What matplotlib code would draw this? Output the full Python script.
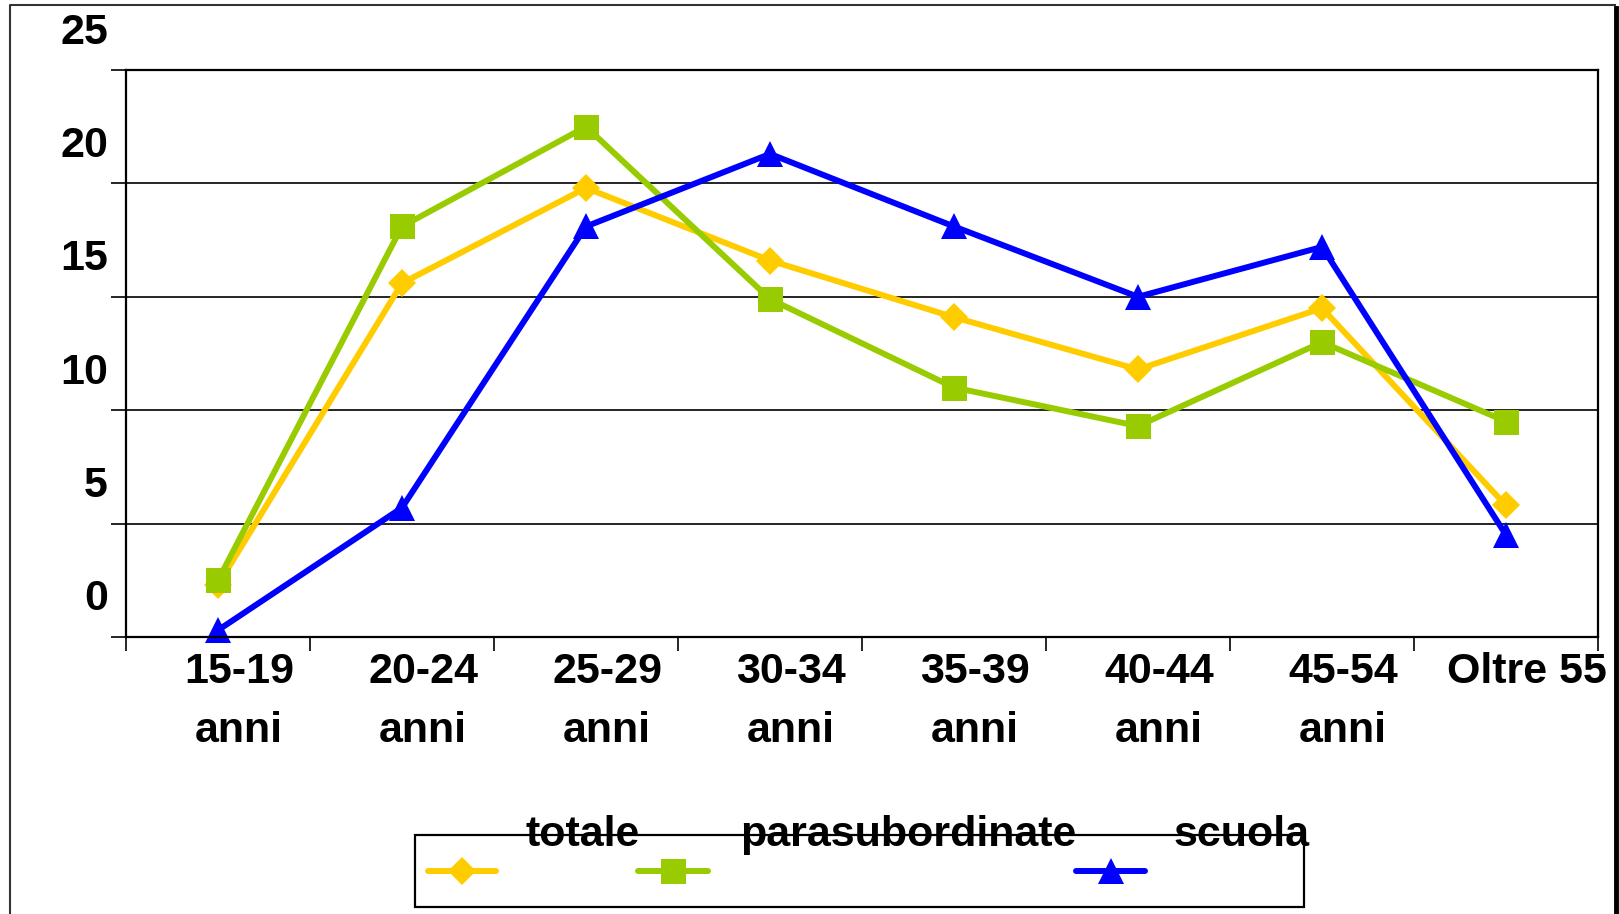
import matplotlib.pyplot as plt
from matplotlib.lines import Line2D
from matplotlib.patches import Rectangle
from matplotlib.transforms import ScaledTranslation

plt.rcParams['font.family'] = ['Liberation Sans', 'DejaVu Sans']
plt.rcParams['font.weight'] = 'bold'

# classi di eta'
categorie = ['15-19\nanni', '20-24\nanni', '25-29\nanni', '30-34\nanni',
             '35-39\nanni', '40-44\nanni', '45-54\nanni', 'Oltre 55']

# valori delle serie
totale = [2.3, 15.6, 19.8, 16.6, 14.1, 11.8, 14.5, 5.8]
parasubordinate = [2.5, 18.1, 22.5, 14.9, 11.0, 9.3, 13.0, 9.5]
scuola = [0.3, 5.7, 18.1, 21.3, 18.1, 15.0, 17.2, 4.5]

y_ticks = [0, 5, 10, 15, 20, 25]

nomi = ['totale', 'parasubordinate', 'scuola']
colori = ['#FFCC00', '#99CC00', '#0000FF']
marcatori = ['D', 's', '^']
dim_marc = [14.5, 18, 19]
FS = 31

W, H = 1619, 914
fig = plt.figure(figsize=(W / 100, H / 100), dpi=100)
ax = fig.add_axes([126 / W, 1 - 637 / H, (1598 - 126) / W, (637 - 70) / H])

x = list(range(len(categorie)))
for serie, col, m, ms in zip([totale, parasubordinate, scuola], colori, marcatori, dim_marc):
    ax.plot(x, serie, color=col, lw=4.3, marker=m, markersize=ms,
            markeredgewidth=0, clip_on=False)

ax.set_xlim(-0.5, len(categorie) - 0.5)
ax.set_ylim(0, 25)

# assi
for s in ax.spines.values():
    s.set_color('black')
    s.set_linewidth(1.6)

ax.set_yticks(y_ticks)
ax.set_yticklabels([str(v) for v in y_ticks])
ax.tick_params(axis='y', direction='out', length=11, width=1.2, pad=2, labelsize=FS)
ax.grid(axis='y', color='black', lw=1.2)
ax.set_axisbelow(True)

# etichette y spostate verso l'alto
off_y = ScaledTranslation(0, 0.42, fig.dpi_scale_trans)
for lab in ax.get_yticklabels():
    lab.set_transform(lab.get_transform() + off_y)

ax.set_xticks([i - 0.5 for i in range(len(categorie) + 1)])
ax.set_xticklabels([])
ax.set_xticks(x, minor=True)
ax.set_xticklabels(categorie, minor=True, fontsize=FS, linespacing=1.6)
ax.tick_params(axis='x', which='major', direction='out', length=10, width=1.2)
ax.tick_params(axis='x', which='minor', length=0, pad=11)
off_x = ScaledTranslation(0.21, 0, fig.dpi_scale_trans)
for lab in ax.get_xticklabels(minor=True):
    lab.set_transform(lab.get_transform() + off_x)

# cornice esterna
def px(xp, yp):
    return xp / W, 1 - yp / H

fig.add_artist(Line2D(*zip(px(10, 914), px(10, 5), px(1615, 5)), color='#333333', lw=1.5))
fig.add_artist(Line2D(*zip(px(1616, 8), px(1616, 914)), color='black', lw=3.5))

# legenda
x0, y0 = px(415, 907)
x1, y1 = px(1304, 835)
fig.add_artist(Rectangle((x0, y0), x1 - x0, y1 - y0, transform=fig.transFigure,
                         fill=False, edgecolor='black', lw=1.6))
seg = [(428, 496), (638, 708), (1076, 1145)]
testo_x = [583, 908, 1242]
for nome, col, m, ms, (a, b), tx in zip(nomi, colori, marcatori, dim_marc, seg, testo_x):
    xa, ya = px(a, 871)
    xb, _ = px(b, 871)
    fig.add_artist(Line2D([xa, xb], [ya, ya], color=col, lw=4.3, solid_capstyle='round'))
    fig.add_artist(Line2D([(xa + xb) / 2], [ya], color=col, marker=m, markersize=ms,
                          markeredgewidth=0, linestyle='none'))
    tx_f, ty_f = px(tx, 835)
    fig.text(tx_f, ty_f, nome, ha='center', va='center', fontsize=FS)

fig.savefig('out.png', dpi=100)
